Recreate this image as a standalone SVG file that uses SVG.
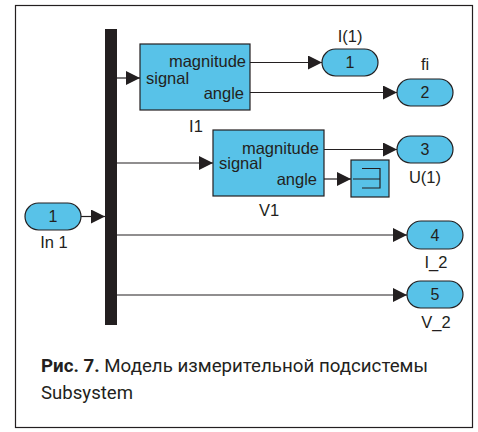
<svg xmlns="http://www.w3.org/2000/svg" width="478" height="432" viewBox="0 0 478 432">
<style>
.blk{fill:#58c2e8;stroke:#231f20;stroke-width:1.2}
.t{font-family:"Liberation Sans",Arial,sans-serif;font-size:16.5px;fill:#231f20}
.n{font-family:"Liberation Sans",Arial,sans-serif;font-size:16px;fill:#231f20;text-anchor:middle}
.w{fill:none;stroke:#231f20;stroke-width:1.2}
.cap{font-family:Roboto,"Liberation Sans",sans-serif;font-size:18px;fill:#231f20}
</style>
<defs>
<marker id="ah" markerUnits="userSpaceOnUse" markerWidth="15" markerHeight="14" refX="14" refY="7" orient="auto">
<path d="M0,0 L14,7 L0,14 Z" fill="#231f20"/>
</marker>
</defs>
<rect x="15.5" y="5.5" width="457" height="422" fill="#fff" stroke="#231f20" stroke-width="1.2"/>
<g id="bus"><rect x="105" y="29" width="12" height="296" fill="#231f20"/></g>
<g id="connectors">
<path class="w" d="M81,216.5 H105" marker-end="url(#ah)"/>
<path class="w" d="M117,78 H140" marker-end="url(#ah)"/>
<path class="w" d="M250,62.5 H322" marker-end="url(#ah)"/>
<path class="w" d="M250,92.5 H397" marker-end="url(#ah)"/>
<path class="w" d="M117,163 H213" marker-end="url(#ah)"/>
<path class="w" d="M324,149.5 H397" marker-end="url(#ah)"/>
<path class="w" d="M324,179 H351" marker-end="url(#ah)"/>
<path class="w" d="M117,235 H407" marker-end="url(#ah)"/>
<path class="w" d="M117,295 H407" marker-end="url(#ah)"/>
</g>
<g id="in1">
<rect class="blk" x="25" y="203" width="56" height="27" rx="13.5"/>
<text class="n" x="53" y="222">1</text>
<text class="t" x="54" y="248" text-anchor="middle">In 1</text>
</g>
<g id="I1">
<rect class="blk" x="140" y="44" width="110" height="66"/>
<text class="t" x="246" y="67" text-anchor="end">magnitude</text>
<text class="t" x="146" y="84">signal</text>
<text class="t" x="244" y="99" text-anchor="end">angle</text>
<text class="t" x="196" y="132" text-anchor="middle">I1</text>
</g>
<g id="V1">
<rect class="blk" x="213" y="130" width="111" height="66"/>
<text class="t" x="319" y="154" text-anchor="end">magnitude</text>
<text class="t" x="219" y="169">signal</text>
<text class="t" x="317" y="185" text-anchor="end">angle</text>
<text class="t" x="269" y="216" text-anchor="middle">V1</text>
</g>
<g id="term">
<rect class="blk" x="351" y="160" width="38" height="37"/>
<path class="w" d="M362,168.5 H380 V188 H362 M353,179 H380"/>
</g>
<g id="out1">
<rect class="blk" x="322" y="49" width="56" height="27" rx="13.5"/>
<text class="n" x="350" y="68">1</text>
<text class="t" x="350" y="42" text-anchor="middle">I(1)</text>
</g>
<g id="out2">
<rect class="blk" x="397" y="79" width="56" height="27" rx="13.5"/>
<text class="n" x="425" y="98">2</text>
<text class="t" x="425" y="70" text-anchor="middle">fi</text>
</g>
<g id="out3">
<rect class="blk" x="397" y="136" width="56" height="27" rx="13.5"/>
<text class="n" x="425" y="155">3</text>
<text class="t" x="425" y="183" text-anchor="middle">U(1)</text>
</g>
<g id="out4">
<rect class="blk" x="407" y="221" width="56" height="28" rx="14"/>
<text class="n" x="435" y="241">4</text>
<text class="t" x="436" y="268" text-anchor="middle">I_2</text>
</g>
<g id="out5">
<rect class="blk" x="407" y="281" width="56" height="27" rx="13.5"/>
<text class="n" x="435" y="300">5</text>
<text class="t" x="436" y="328" text-anchor="middle">V_2</text>
</g>
<g id="caption">
<text class="cap" x="41" y="372" textLength="387" lengthAdjust="spacingAndGlyphs"><tspan font-weight="bold">Рис. 7.</tspan> Модель измерительной подсистемы</text>
<text class="cap" x="41" y="399" textLength="92" lengthAdjust="spacingAndGlyphs">Subsystem</text>
</g>
</svg>
